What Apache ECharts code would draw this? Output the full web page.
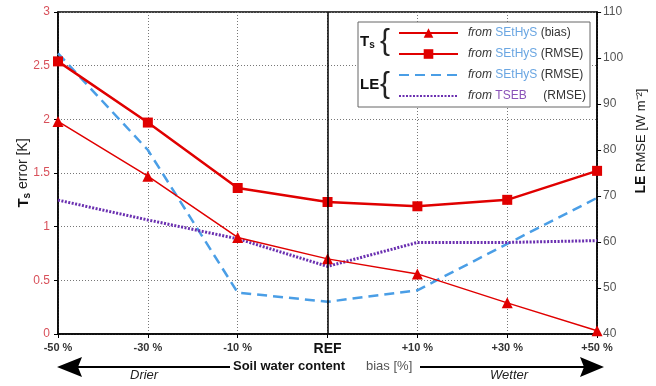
<!DOCTYPE html>
<html>
<head>
<meta charset="utf-8">
<script src="https://cdn.jsdelivr.net/npm/echarts@6/dist/echarts.min.js"></script>
<style>
  html, body { margin: 0; padding: 0; background: #fff; }
  #chart { width: 656px; height: 386px; }
</style>
</head>
<body>
<div id="chart"></div>
<script>
  // soil water content bias steps
  var categories = ['-50 %', '-30 %', '-10 %', 'REF', '+10 %', '+30 %', '+50 %']
  // Ts error [K], left axis
  var tsBias = [1.98, 1.47, 0.9, 0.7, 0.56, 0.29, 0.03]
  var tsRmse = [2.54, 1.97, 1.36, 1.23, 1.19, 1.25, 1.52]
  // LE RMSE [W m-2], right axis
  var leSethys = [101, 80, 49, 47, 49.5, 59.6, 69.6]
  var leTseb = [69.1, 64.8, 60.7, 54.7, 59.9, 59.9, 60.3]

  var legendText = {
    tsBias: '{i|from} {b|SEtHyS} (bias)',
    tsRmse: '{i|from} {b|SEtHyS} (RMSE)',
    leSethys: '{i|from} {b|SEtHyS} (RMSE)',
    leTseb: '{i|from} {p|TSEB}     (RMSE)'
  }

  var font = 'Liberation Sans, Arial, sans-serif'
  var chart = echarts.init(document.getElementById('chart'))

  var option = {
    animation: false,
    textStyle: { fontFamily: font },
    grid: {
      left: 58, right: 56, top: 12, bottom: 52,
      show: true, borderColor: '#000', borderWidth: 1.5
    },
    legend: {
      orient: 'vertical',
      left: 398, top: 27, padding: 0,
      itemWidth: 59, itemHeight: 12, itemGap: 9,
      // no marker on the LE lines, only the line itself
      data: ['tsBias', 'tsRmse',
        { name: 'leSethys', itemStyle: { opacity: 0 } },
        { name: 'leTseb', itemStyle: { opacity: 0 } }],
      formatter: function (name) { return legendText[name] },
      textStyle: {
        fontSize: 12, color: '#333', padding: [0, 0, 0, 5],
        rich: {
          i: { fontStyle: 'italic', fontSize: 12, color: '#333' },
          b: { color: '#6aa6e2', fontSize: 12 },
          p: { color: '#8a52b8', fontSize: 12 }
        }
      }
    },
    xAxis: {
      type: 'category',
      data: categories,
      boundaryGap: false,
      axisLine: { lineStyle: { color: '#000', width: 1.5 } },
      axisTick: { alignWithLabel: true, length: 4, lineStyle: { color: '#000' } },
      axisLabel: {
        margin: 8,
        formatter: function (v) { return v === 'REF' ? '{r|REF}' : v },
        fontWeight: 'bold', fontSize: 11, color: '#333',
        rich: { r: { fontWeight: 'bold', fontSize: 14, color: '#111' } }
      },
      splitLine: { show: true, lineStyle: { color: '#777', type: [1, 2], width: 1 } }
    },
    yAxis: [{
      type: 'value',
      min: 0, max: 3, interval: 0.5,
      name: '{t|T}{s|s}{n| error [K]}',
      nameLocation: 'middle', nameRotate: 90, nameGap: 26,
      nameMoveOverlap: false,
      nameTextStyle: {
        rich: {
          t: { fontWeight: 'bold', fontSize: 15, color: '#111' },
          s: { fontWeight: 'bold', fontSize: 10, color: '#111', padding: [7, 0, 0, 0] },
          n: { fontSize: 14, color: '#222' }
        }
      },
      axisLine: { show: true, lineStyle: { color: '#000', width: 1.5 } },
      axisTick: { show: true, length: 4, lineStyle: { color: '#000' } },
      axisLabel: { color: '#d8505a', fontSize: 12, margin: 8 },
      splitLine: { show: true, lineStyle: { color: '#777', type: [1, 2], width: 1 } }
    }, {
      type: 'value',
      min: 40, max: 110, interval: 10,
      position: 'right',
      name: '{b|LE} RMSE [W m⁻²]',
      nameLocation: 'middle', nameRotate: 90, nameGap: 30,
      nameTextStyle: {
        fontSize: 13, color: '#222', padding: [0, 0, 0, 64],
        rich: { b: { fontWeight: 'bold', fontSize: 14, color: '#111' } }
      },
      axisLine: { show: true, lineStyle: { color: '#000', width: 1.5 } },
      axisTick: { show: true, length: 4, lineStyle: { color: '#000' } },
      axisLabel: { color: '#555', fontSize: 12, margin: 6 },
      splitLine: { show: false }
    }],
    series: [{
      name: 'tsBias',
      type: 'line',
      data: tsBias,
      symbol: 'triangle', symbolSize: 11,
      color: '#e00000',
      lineStyle: { width: 1.5, color: '#e00000' },
      itemStyle: { color: '#e00000' },
      z: 4,
      markLine: {
        silent: true, symbol: 'none',
        label: { show: false },
        lineStyle: { color: '#000', type: 'solid', width: 1.5 },
        data: [{ xAxis: 'REF' }]
      }
    }, {
      name: 'tsRmse',
      type: 'line',
      data: tsRmse,
      symbol: 'rect', symbolSize: 10,
      color: '#e00000',
      lineStyle: { width: 2.5, color: '#e00000' },
      itemStyle: { color: '#e00000' },
      z: 4
    }, {
      name: 'leSethys',
      type: 'line',
      yAxisIndex: 1,
      data: leSethys,
      showSymbol: false, symbol: 'none',
      color: '#4a9ee6',
      lineStyle: { width: 2.5, color: '#4a9ee6', type: [10, 6] },
      z: 3
    }, {
      name: 'leTseb',
      type: 'line',
      yAxisIndex: 1,
      data: leTseb,
      showSymbol: false, symbol: 'none',
      color: '#6a2fb0',
      lineStyle: { width: 3, color: '#6a2fb0', type: [2, 1.5] },
      z: 3
    }],
    graphic: [
      // legend frame
      { type: 'rect', z: 3, shape: { x: 358, y: 22, width: 232, height: 85 },
        style: { fill: '#fff', stroke: '#666', lineWidth: 1 } },
      { type: 'text', z: 5, left: 360, top: 34,
        style: { rich: { t: { fontWeight: 'bold', fontSize: 15, fontFamily: font, fill: '#111' },
          s: { fontWeight: 'bold', fontSize: 10, fontFamily: font, fill: '#111', padding: [8, 0, 0, 0] } },
          text: '{t|T}{s|s}' } },
      { type: 'text', z: 5, left: 380, top: 27,
        style: { text: '{', fontSize: 30, fontFamily: font, fill: '#222' } },
      { type: 'text', z: 5, left: 360, top: 77,
        style: { text: 'LE', fontWeight: 'bold', fontSize: 15, fontFamily: font, fill: '#111' } },
      { type: 'text', z: 5, left: 380, top: 70,
        style: { text: '{', fontSize: 30, fontFamily: font, fill: '#222' } },
      // bottom arrow
      { type: 'line', shape: { x1: 78, y1: 367, x2: 230, y2: 367 }, style: { stroke: '#000', lineWidth: 2 } },
      { type: 'line', shape: { x1: 420, y1: 367, x2: 584, y2: 367 }, style: { stroke: '#000', lineWidth: 2 } },
      { type: 'polygon', shape: { points: [[57, 367], [82, 357], [78, 367], [82, 377]] }, style: { fill: '#000' } },
      { type: 'polygon', shape: { points: [[604, 367], [580, 357], [584, 367], [580, 377]] }, style: { fill: '#000' } },
      { type: 'text', left: 233, top: 360,
        style: { text: 'Soil water content', fontWeight: 'bold', fontSize: 13, fontFamily: font, fill: '#111' } },
      { type: 'text', left: 366, top: 360,
        style: { text: 'bias [%]', fontSize: 13, fontFamily: font, fill: '#555' } },
      { type: 'text', left: 130, top: 369,
        style: { text: 'Drier', fontStyle: 'italic', fontSize: 13, fontFamily: font, fill: '#222' } },
      { type: 'text', left: 490, top: 369,
        style: { text: 'Wetter', fontStyle: 'italic', fontSize: 13, fontFamily: font, fill: '#222' } }
    ]
  }

  chart.setOption(option)
  window.addEventListener('resize', function () { chart.resize() })
</script>
</body>
</html>
